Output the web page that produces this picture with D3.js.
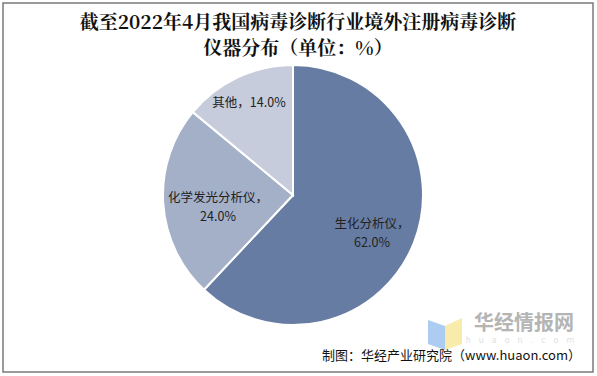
<!DOCTYPE html>
<html><head><meta charset="utf-8">
<script src="https://cdn.jsdelivr.net/npm/d3@7"></script>
<style>body{margin:0;background:#fff}svg{display:block}</style>
</head><body>
<svg id="c" width="597" height="376"></svg>
<script>
const categories = ["生化分析仪", "化学发光分析仪", "其他"];
const values = [62.0, 24.0, 14.0];
const colors = ["#677ca2", "#a4afc8", "#c6ccdb"];
const titleLines = ["截至2022年4月我国病毒诊断行业境外注册病毒诊断", "仪器分布（单位：%）"];
const source = "制图：华经产业研究院（www.huaon.com）";

const svg = d3.select("#c");
svg.append("rect").attr("x",3).attr("y",3).attr("width",590).attr("height",369)
  .attr("fill","#fff").attr("stroke","#7a7a7a").attr("stroke-width",1.5);

const tf = "'Noto Serif CJK SC','Noto Sans CJK SC',serif";
svg.selectAll("text.title").data(titleLines).join("text").attr("class","title")
  .attr("x",298).attr("y",(d,i)=>29+i*26).attr("text-anchor","middle")
  .attr("font-family",tf).attr("font-weight","bold").attr("font-size",19).attr("fill","#111")
  .text(d=>d);

// watermark
const wm = svg.append("g");
wm.append("path").attr("d","M428,320 L445,326 L445,350 L428,344 Z").attr("fill","#9ec3ee").attr("opacity",0.85);
wm.append("path").attr("d","M445,326 L462,318 L462,344 L445,350 Z").attr("fill","#f8e79a").attr("opacity",0.85);
wm.append("text").attr("x",524).attr("y",330).attr("text-anchor","middle")
  .attr("font-family","'Noto Sans CJK SC'").attr("font-weight","bold").attr("font-size",20)
  .attr("fill","#b4b4b4").text("华经情报网");
wm.append("text").attr("x",524).attr("y",342.5).attr("text-anchor","middle")
  .attr("font-family","'DejaVu Sans'").attr("font-size",8).attr("letter-spacing",8)
  .attr("fill","#e0e0e0").text("huaon.com");

const cx = 293, cy = 195, r = 130;
const pie = d3.pie().sort(null).value(d=>d)(values);
const arc = d3.arc().innerRadius(0).outerRadius(r);
const g = svg.append("g").attr("transform",`translate(${cx},${cy})`);
g.selectAll("path").data(pie).join("path").attr("d",arc)
  .attr("fill",(d,i)=>colors[i]).attr("stroke","#fff").attr("stroke-width",2);

const lf = "'Noto Sans CJK SC','DejaVu Sans',sans-serif";
const labelArc = [
  {cat:0, lines:[categories[0]+"，", values[0].toFixed(1)+"%"], dx:79, dy:38},
  {cat:1, lines:[categories[1]+"，", values[1].toFixed(1)+"%"], dx:-75, dy:12},
  {cat:2, lines:[categories[2]+"，"+values[2].toFixed(1)+"%"], dx:-44, dy:-92}
];
labelArc.forEach(l=>{
  const t = g.append("text").attr("text-anchor","middle").attr("font-family",lf)
    .attr("font-size",12.5).attr("fill","#222");
  const n = l.lines.length;
  l.lines.forEach((s,i)=>{
    t.append("tspan").attr("x",l.dx).attr("y",l.dy+(i-(n-1)/2)*19+4).text(s);
  });
});

svg.append("text").attr("x",581).attr("y",360).attr("text-anchor","end")
  .attr("font-family",lf).attr("font-size",13).attr("fill","#111").text(source);
</script>
</body></html>
